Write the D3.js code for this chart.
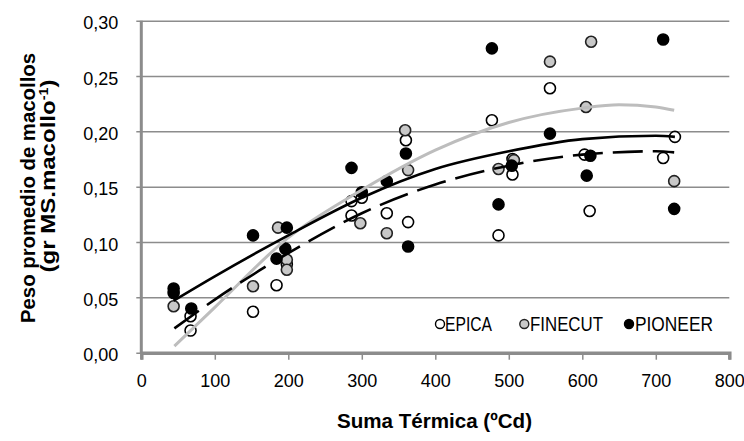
<!DOCTYPE html>
<html>
<head>
<meta charset="utf-8">
<script src="https://cdn.jsdelivr.net/npm/d3@7"></script>
<style>
  body { margin: 0; background: #fff; }
  svg { display: block; font-family: "Liberation Sans", Arial, sans-serif; }
</style>
</head>
<body>
<svg id="chart" width="744" height="441"></svg>
<script>
// tick labels / categories
var series = ["EPICA", "FINECUT", "PIONEER"]
var xTicks = [0, 100, 200, 300, 400, 500, 600, 700, 800]
var yTicks = [0, 0.05, 0.10, 0.15, 0.20, 0.25, 0.30]

// observed points (Suma Térmica, peso)
var epicaX = [67, 67, 152, 184, 198, 286, 286, 300, 334, 360, 363, 477, 486, 505, 505, 556, 603, 610, 710, 726]
var epicaY = [0.033, 0.020, 0.037, 0.061, 0.080, 0.137, 0.124, 0.140, 0.126, 0.192, 0.118, 0.210, 0.106, 0.175, 0.161, 0.239, 0.179, 0.128, 0.176, 0.195]

var finecutX = [44, 152, 186, 198, 198, 298, 334, 359, 363, 486, 507, 556, 605, 612, 725]
var finecutY = [0.042, 0.060, 0.113, 0.084, 0.075, 0.117, 0.108, 0.201, 0.165, 0.166, 0.174, 0.263, 0.222, 0.281, 0.155]

var pioneerX = [44, 44, 68, 152, 184, 196, 198, 286, 300, 334, 360, 363, 477, 486, 504, 556, 606, 611, 710, 725]
var pioneerY = [0.058, 0.054, 0.040, 0.106, 0.085, 0.094, 0.113, 0.167, 0.145, 0.155, 0.180, 0.096, 0.275, 0.134, 0.169, 0.198, 0.160, 0.178, 0.283, 0.130]

// trend lines
var epicaTrendX = [44, 100, 200, 300, 400, 500, 600, 700, 726]
var epicaTrendY = [0.047, 0.069, 0.106, 0.140, 0.166, 0.182, 0.193, 0.196, 0.195]
var finecutTrendX = [45, 100, 200, 300, 400, 500, 600, 650, 700, 725]
var finecutTrendY = [0.006, 0.041, 0.104, 0.147, 0.183, 0.208, 0.221, 0.224, 0.222, 0.219]
var pioneerTrendX = [45, 100, 200, 300, 400, 500, 600, 700, 725]
var pioneerTrendY = [0.022, 0.048, 0.090, 0.126, 0.152, 0.169, 0.179, 0.182, 0.181]

var svg = d3.select('#chart')
var gridColor = "#8c8c8c"

var x = d3.scaleLinear().domain([0, 800]).range([141.3, 729.3])
var y = d3.scaleLinear().domain([0, 0.30]).range([352.7, 20.7])

var comma = d3.formatLocale({ decimal: ",", thousands: ".", grouping: [3], currency: ["", ""] }).format(".2f")

// horizontal gridlines + left ticks
var yAxis = d3.axisLeft(y)
    .tickValues(yTicks)
    .tickSize(-(729.3 - 141.3) - 5)
    .tickFormat(comma)
var gy = svg.append("g")
    .attr("transform", "translate(136.3,0)")
    .call(yAxis)
gy.select(".domain").remove()
gy.selectAll(".tick line")
    .attr("stroke", gridColor)
    .attr("stroke-width", 1.5)
gy.selectAll(".tick text")
    .attr("x", -18)
    .attr("dy", "0.45em")
    .style("font-size", "18px")
    .style("fill", "#000")

// left axis line
svg.append("line")
    .attr("x1", x(0)).attr("x2", x(0))
    .attr("y1", y(0.30)).attr("y2", y(0) + 1)
    .attr("stroke", gridColor)
    .attr("stroke-width", 3)

// bottom axis
var xAxis = d3.axisBottom(x)
    .tickValues(xTicks)
    .tickSize(7)
    .tickPadding(15)
var gx = svg.append("g")
    .attr("transform", "translate(0," + y(0) + ")")
    .call(xAxis)
gx.select(".domain")
    .attr("stroke", gridColor)
    .attr("stroke-width", 3.5)
gx.selectAll(".tick line")
    .attr("stroke", gridColor)
    .attr("stroke-width", 1.5)
gx.selectAll(".tick text")
    .style("font-size", "18px")
    .style("fill", "#000")

// points
var styles = {
    EPICA: { fill: "#ffffff", stroke: "#000" },
    FINECUT: { fill: "#c8c8c8", stroke: "#222" },
    PIONEER: { fill: "#000000", stroke: "#000" }
}
var pointSets = [
    { name: "EPICA", xs: epicaX, ys: epicaY },
    { name: "FINECUT", xs: finecutX, ys: finecutY },
    { name: "PIONEER", xs: pioneerX, ys: pioneerY }
]

pointSets.forEach(function (s) {
    svg.append("g")
        .selectAll("circle")
        .data(s.xs.map(function (v, i) { return [v, s.ys[i]] }))
        .enter()
        .append("circle")
        .attr("cx", function (d) { return x(d[0]) })
        .attr("cy", function (d) { return y(d[1]) })
        .attr("r", 5.5)
        .attr("fill", styles[s.name].fill)
        .attr("stroke", styles[s.name].stroke)
        .attr("stroke-width", 1.6)
})

// trend lines
var line = d3.line()
    .x(function (d) { return x(d[0]) })
    .y(function (d) { return y(d[1]) })
    .curve(d3.curveMonotoneX)

function zip(a, b) { return a.map(function (v, i) { return [v, b[i]] }) }

svg.append("path")
    .datum(zip(finecutTrendX, finecutTrendY))
    .attr("d", line)
    .attr("fill", "none")
    .attr("stroke", "#bdbdbd")
    .attr("stroke-width", 3)

svg.append("path")
    .datum(zip(epicaTrendX, epicaTrendY))
    .attr("d", line)
    .attr("fill", "none")
    .attr("stroke", "#000")
    .attr("stroke-width", 2.6)

svg.append("path")
    .datum(zip(pioneerTrendX, pioneerTrendY))
    .attr("d", line)
    .attr("fill", "none")
    .attr("stroke", "#000")
    .attr("stroke-width", 2.6)
    .attr("stroke-dasharray", "30,10")

// legend
var legendX = [440, 524.3, 629]
var legendTextX = [445, 530, 635]
var legendTextW = [47, 73, 78]
var legend = svg.append("g")
legend.selectAll("circle")
    .data(series)
    .enter()
    .append("circle")
    .attr("cx", function (d, i) { return legendX[i] })
    .attr("cy", 324)
    .attr("r", 4.5)
    .attr("fill", function (d) { return styles[d].fill })
    .attr("stroke", function (d) { return styles[d].stroke })
    .attr("stroke-width", 1.4)
legend.selectAll("text")
    .data(series)
    .enter()
    .append("text")
    .attr("x", function (d, i) { return legendTextX[i] })
    .attr("y", 331)
    .attr("textLength", function (d, i) { return legendTextW[i] })
    .attr("lengthAdjust", "spacingAndGlyphs")
    .style("font-size", "20px")
    .text(function (d) { return d })

// axis titles
svg.append("text")
    .attr("x", 434.5)
    .attr("y", 428)
    .attr("text-anchor", "middle")
    .attr("textLength", 195)
    .attr("lengthAdjust", "spacingAndGlyphs")
    .style("font-size", "20px")
    .style("font-weight", "bold")
    .text("Suma Térmica (ºCd)")

svg.append("text")
    .attr("transform", "translate(35,188) rotate(-90)")
    .attr("text-anchor", "middle")
    .attr("textLength", 270)
    .attr("lengthAdjust", "spacingAndGlyphs")
    .style("font-size", "20px")
    .style("font-weight", "bold")
    .text("Peso promedio de macollos")

var t2 = svg.append("text")
    .attr("transform", "translate(55,176) rotate(-90)")
    .attr("text-anchor", "middle")
    .attr("textLength", 193)
    .attr("lengthAdjust", "spacingAndGlyphs")
    .style("font-size", "20px")
    .style("font-weight", "bold")
t2.append("tspan").text("(gr MS.macollo")
t2.append("tspan").attr("dy", -7).style("font-size", "12px").text("-1")
t2.append("tspan").attr("dy", 7).text(")")
</script>
</body>
</html>
